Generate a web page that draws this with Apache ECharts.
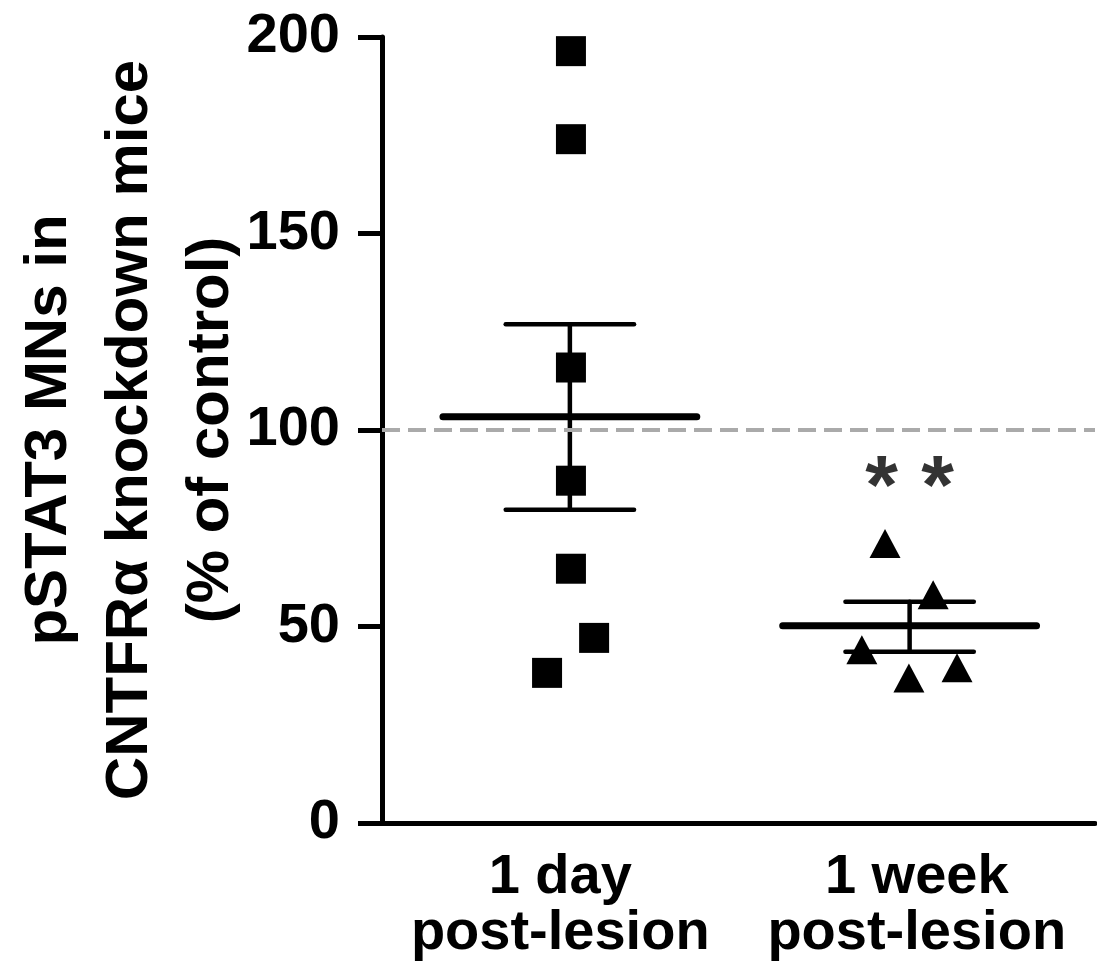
<!DOCTYPE html>
<html>
<head>
<meta charset="utf-8">
<script src="https://cdn.jsdelivr.net/npm/echarts@6/dist/echarts.min.js"></script>
<style>
  html, body { margin: 0; padding: 0; background: #fff; }
  #chart { width: 1097px; height: 971px; }
</style>
</head>
<body>
<div id="chart"></div>
<script>
var categories = ["1 day\npost-lesion", "1 week\npost-lesion"];
var yTicks = [0, 50, 100, 150, 200];

// individual animals (x = jittered position inside the category band)
var dayX = [0.53, 0.53, 0.53, 0.53, 0.53, 0.595, 0.463];
var dayY = [196.4, 174.0, 115.9, 87.1, 64.7, 47.1, 38.2];
var weekX = [1.411, 1.546, 1.346, 1.613, 1.478];
var weekY = [71.1, 58.1, 44.1, 39.5, 36.9];

// mean +/- SEM
var groupX = [0.527, 1.48];
var groupMean = [103.4, 50.2];
var groupUpper = [126.9, 56.3];
var groupLower = [79.7, 43.6];

var controlLevel = 100;
var sigY = [84.5];
var sigText = ["* *"];

var font = "'Liberation Sans', Arial, sans-serif";

function zip(xs, ys) {
  var out = [];
  for (let i = 0; i < xs.length; i++) out.push([xs[i], ys[i]]);
  return out;
}

var semData = [];
for (let i = 0; i < groupX.length; i++) {
  semData.push([groupX[i], groupMean[i], groupUpper[i], groupLower[i]]);
}

var myChart = echarts.init(document.getElementById("chart"));
var option = {
  animation: false,
  grid: { left: 382, right: 2, top: 37, bottom: 148, containLabel: false, outerBoundsMode: "none" },
  xAxis: [
    {
      type: "category",
      data: categories,
      boundaryGap: true,
      axisLine: { lineStyle: { color: "#000", width: 5 } },
      axisTick: { length: 24, lineStyle: { color: "#000", width: 5 } },
      axisLabel: {
        interval: 0,
        color: "#000",
        fontFamily: font,
        fontWeight: "bold",
        fontSize: 56,
        lineHeight: 56,
        margin: 27,
      },
      splitLine: { show: false },
    },
    { type: "value", min: 0, max: 2, show: false },
  ],
  yAxis: {
    type: "value",
    min: yTicks[0],
    max: yTicks[yTicks.length - 1],
    interval: 50,
    name: "pSTAT3 MNs in\nCNTFRα knockdown mice\n(% of control)",
    nameLocation: "middle",
    nameGap: 130,
    nameMoveOverlap: false,
    nameTextStyle: {
      color: "#000",
      fontFamily: font,
      fontWeight: "bold",
      fontSize: 60,
      lineHeight: 81,
    },
    axisLine: { show: true, lineStyle: { color: "#000", width: 5 } },
    axisTick: { show: true, length: 24, lineStyle: { color: "#000", width: 5 } },
    axisLabel: {
      color: "#000",
      fontFamily: font,
      fontWeight: "bold",
      fontSize: 56,
      margin: 42,
    },
    splitLine: { show: false },
  },
  series: [
    {
      name: "control",
      type: "scatter",
      xAxisIndex: 1,
      data: [],
      markLine: {
        silent: true,
        symbol: "none",
        label: { show: false },
        lineStyle: { color: "#aaaaaa", type: [18, 8], width: 4 },
        data: [{ yAxis: controlLevel }],
      },
      z: 1,
    },
    {
      name: "sem",
      type: "custom",
      xAxisIndex: 1,
      data: semData,
      z: 3,
      renderItem: function (params, api) {
        var x = api.value(0);
        var mid = api.coord([x, api.value(1)]);
        var top = api.coord([x, api.value(2)]);
        var bot = api.coord([x, api.value(3)]);
        var mL = api.coord([x - 0.356, api.value(1)]);
        var mR = api.coord([x + 0.356, api.value(1)]);
        var capHalf = api.coord([x + 0.18, 0])[0] - mid[0];
        var thin = { stroke: "#000", lineWidth: 4.5, lineCap: "round" };
        return {
          type: "group",
          children: [
            { type: "line", shape: { x1: mid[0], y1: top[1], x2: mid[0], y2: bot[1] }, style: thin },
            { type: "line", shape: { x1: mid[0] - capHalf, y1: top[1], x2: mid[0] + capHalf, y2: top[1] }, style: thin },
            { type: "line", shape: { x1: mid[0] - capHalf, y1: bot[1], x2: mid[0] + capHalf, y2: bot[1] }, style: thin },
            { type: "line", shape: { x1: mL[0], y1: mL[1], x2: mR[0], y2: mR[1] }, style: { stroke: "#000", lineWidth: 7, lineCap: "round" } },
          ],
        };
      },
    },
    {
      name: "1 day",
      type: "scatter",
      xAxisIndex: 1,
      symbol: "rect",
      symbolSize: 30,
      itemStyle: { color: "#000", opacity: 1 },
      data: zip(dayX, dayY),
      z: 4,
    },
    {
      name: "1 week",
      type: "scatter",
      xAxisIndex: 1,
      symbol: "triangle",
      symbolSize: [31, 29],
      itemStyle: { color: "#000", opacity: 1 },
      data: zip(weekX, weekY),
      z: 4,
    },
    {
      name: "significance",
      type: "scatter",
      xAxisIndex: 1,
      symbolSize: 0,
      data: zip([groupX[1]], sigY),
      label: {
        show: true,
        position: "inside",
        formatter: function (p) { return sigText[p.dataIndex]; },
        color: "#000",
        fontFamily: font,
        fontWeight: "bold",
        fontSize: 84,
      },
      z: 4,
    },
  ],
};
myChart.setOption(option);
</script>
</body>
</html>
